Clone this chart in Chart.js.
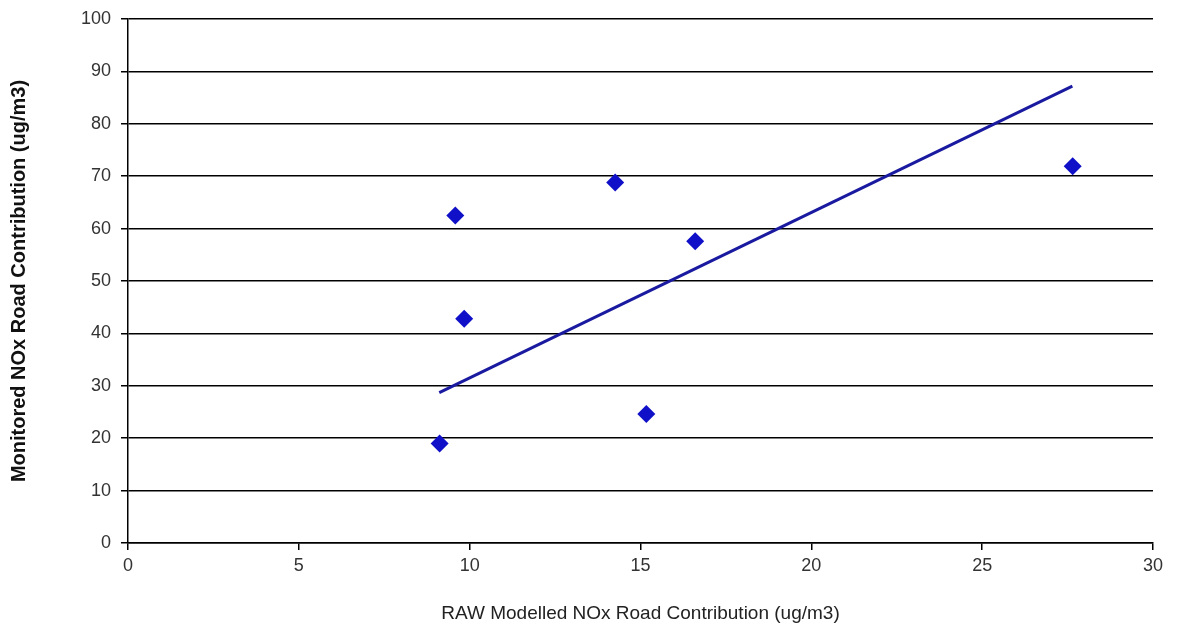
<!DOCTYPE html>
<html>
<head>
<meta charset="utf-8">
<script src="https://cdn.jsdelivr.net/npm/chart.js@4/dist/chart.umd.min.js"></script>
<style>
  html, body { margin: 0; padding: 0; background: #fff; }
  #wrap { width: 1185px; height: 635px; }
</style>
</head>
<body>
<div id="wrap"><canvas id="ch"></canvas></div>
<script>
// valores
const modelled  = [9.58, 9.84, 9.12, 14.26, 15.17, 16.6, 27.65];
const monitored = [62.5, 42.8, 19.0, 68.8, 24.6, 57.6, 71.9];
const trendX = [9.11, 27.64];
const trendY = [28.7, 87.2];
const xTicks = [0, 5, 10, 15, 20, 25, 30];
const yTicks = [0, 10, 20, 30, 40, 50, 60, 70, 80, 90, 100];

const FONT = 'Liberation Sans, Arial, sans-serif';

new Chart(document.getElementById('ch'), {
  type: 'scatter',
  data: {
    datasets: [
      {
        label: 'Monitored',
        data: modelled.map((x, i) => ({ x, y: monitored[i] })),
        pointStyle: 'rectRot',
        pointRadius: 9,
        backgroundColor: '#1010c8',
        borderColor: '#1010c8',
        borderWidth: 0,
      },
      {
        type: 'line',
        label: 'Linear',
        data: trendX.map((x, i) => ({ x, y: trendY[i] })),
        borderColor: '#1a1aa0',
        borderWidth: 3,
        pointRadius: 0,
        fill: false,
      },
    ],
  },
  options: {
    responsive: true,
    maintainAspectRatio: false,
    animation: false,
    layout: { padding: { top: 9, right: 32, left: 0, bottom: 0 } },
    plugins: { legend: { display: false }, tooltip: { enabled: false } },
    scales: {
      x: {
        type: 'linear',
        min: 0, max: 30,
        afterBuildTicks: s => { s.ticks = xTicks.map(v => ({ value: v })); },
        afterFit: s => { s.height = 92; },
        grid: { drawOnChartArea: false, drawTicks: true, tickLength: 7, color: '#000', lineWidth: 1.5 },
        border: { color: '#000', width: 1.5 },
        ticks: { color: '#333', font: { family: FONT, size: 18 }, padding: 5, maxRotation: 0 },
        title: {
          display: true,
          text: 'RAW Modelled NOx Road Contribution (ug/m3)',
          color: '#222',
          font: { family: FONT, size: 19 },
          padding: { top: 0, bottom: 10 },
        },
      },
      y: {
        type: 'linear',
        min: 0, max: 100,
        afterBuildTicks: s => { s.ticks = yTicks.map(v => ({ value: v })); },
        afterFit: s => { s.width = 128; },
        grid: { color: '#000', lineWidth: 1.5, tickLength: 7 },
        border: { color: '#000', width: 1.5 },
        ticks: { color: '#333', font: { family: FONT, size: 18, lineHeight: 1 }, padding: 10 },
        title: {
          display: true,
          text: 'Monitored NOx Road Contribution (ug/m3)',
          color: '#111',
          font: { family: FONT, size: 20, weight: 'bold' },
          padding: { top: 7, bottom: 0 },
        },
      },
    },
  },
});
</script>
</body>
</html>
